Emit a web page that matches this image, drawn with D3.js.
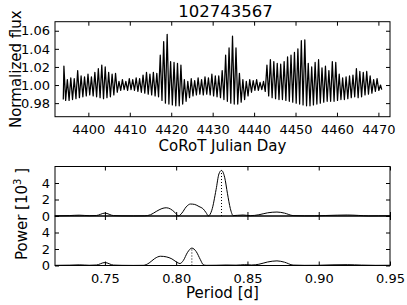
<!DOCTYPE html>
<html>
<head>
<meta charset="utf-8">
<script src="https://cdn.jsdelivr.net/npm/d3@7"></script>
<style>
html,body{margin:0;padding:0;background:#fff;}
svg{display:block;font-family:"DejaVu Sans",sans-serif;}
</style>
</head>
<body>
<svg id="chart" width="407" height="305"></svg>
<script>
// ---------------- DATA ----------------
const title = "102743567";
// light curve: maxima and minima of each pulsation cycle (CoRoT Julian Day, normalized flux)
const peakDays = [4394.10,4394.93,4395.76,4396.59,4397.42,4398.25,4399.08,4399.91,4400.74,4401.57,
4402.41,4403.24,4404.07,4404.90,4405.73,4406.56,4407.39,4408.22,4409.05,4409.88,
4410.71,4411.54,4412.37,4413.20,4414.03,4414.86,4415.69,4416.52,4417.35,4418.18,
4419.02,4419.85,4420.68,4421.51,4422.34,4423.17,4424.00,4424.83,4425.66,4426.49,
4427.32,4428.15,4428.98,4429.81,4430.64,4431.47,4432.30,4433.13,4433.96,4434.79,
4435.63,4436.46,4437.29,4438.12,4438.95,4439.78,4440.61,4441.44,4442.27,4443.10,
4443.93,4444.76,4445.59,4446.42,4447.25,4448.08,4448.91,4449.74,4450.57,4451.40,
4452.24,4453.07,4453.90,4454.73,4455.56,4456.39,4457.22,4458.05,4458.88,4459.71,
4460.54,4461.37,4462.20,4463.03,4463.86,4464.69,4465.52,4466.35,4467.18,4468.01,
4468.85,4469.68,4470.51];
const peakFlux = [1.021,1.006,1.008,1.007,1.016,1.010,1.009,1.012,1.009,1.014,
1.018,1.022,1.020,1.014,1.012,1.013,1.004,1.006,1.004,1.007,
1.006,1.008,1.007,1.011,1.014,1.012,1.014,1.013,1.033,1.048,
1.056,1.026,1.025,1.024,1.022,1.006,1.004,1.007,1.005,1.008,
1.006,1.009,1.008,1.012,1.010,1.010,1.016,1.033,1.041,1.054,
1.041,1.013,1.006,1.004,1.006,1.005,1.006,1.003,1.004,1.022,
1.028,1.026,1.024,1.023,1.026,1.031,1.033,1.036,1.040,1.049,
1.050,1.024,1.020,1.025,1.028,1.019,1.021,1.016,1.026,1.025,
1.012,1.008,1.009,1.010,1.011,1.018,1.015,1.014,1.015,1.010,
1.006,1.007,1.000];
const troughDays = [4393.95,4394.52,4395.35,4396.18,4397.01,4397.84,4398.67,4399.50,4400.33,4401.16,4401.99,
4402.83,4403.66,4404.49,4405.32,4406.15,4406.98,4407.81,4408.64,4409.47,4410.30,
4411.13,4411.96,4412.79,4413.62,4414.45,4415.28,4416.11,4416.94,4417.77,4418.60,
4419.44,4420.27,4421.10,4421.93,4422.76,4423.59,4424.42,4425.25,4426.08,4426.91,
4427.74,4428.57,4429.40,4430.23,4431.06,4431.89,4432.72,4433.55,4434.38,4435.21,
4436.05,4436.88,4437.71,4438.54,4439.37,4440.20,4441.03,4441.86,4442.69,4443.52,
4444.35,4445.18,4446.01,4446.84,4447.67,4448.50,4449.33,4450.16,4450.99,4451.82,
4452.66,4453.49,4454.32,4455.15,4455.98,4456.81,4457.64,4458.47,4459.30,4460.13,
4460.96,4461.79,4462.62,4463.45,4464.28,4465.11,4465.94,4466.77,4467.60,4468.43,
4469.27,4470.10,4470.80];
const troughFlux = [0.984,0.983,0.983,0.984,0.985,0.986,0.987,0.988,0.989,0.988,0.987,
0.986,0.985,0.986,0.987,0.989,0.992,0.994,0.995,0.994,0.995,
0.994,0.993,0.992,0.991,0.990,0.989,0.988,0.987,0.983,0.980,
0.979,0.978,0.977,0.977,0.979,0.982,0.986,0.988,0.989,0.990,
0.989,0.990,0.989,0.988,0.987,0.986,0.984,0.982,0.980,0.979,
0.979,0.981,0.984,0.988,0.992,0.994,0.994,0.995,0.993,0.988,
0.986,0.985,0.984,0.984,0.983,0.982,0.981,0.980,0.979,0.978,
0.977,0.977,0.978,0.979,0.980,0.981,0.982,0.982,0.982,0.983,
0.984,0.984,0.985,0.986,0.987,0.986,0.987,0.989,0.990,0.991,
0.993,0.994,0.995];
const lcXTicks = [4400,4410,4420,4430,4440,4450,4460,4470];
const lcYTicks = [0.98,1.00,1.02,1.04,1.06];

// periodograms (period in d, power in 10^3)
const period1 = [0.715,0.725,0.732,0.739,0.744,0.750,0.756,0.762,0.770,0.778,0.782,0.786,0.790,0.793,0.796,0.799,0.8016,
0.804,0.807,0.810,0.813,0.816,0.819,0.821,0.8226,0.825,0.828,0.830,0.8318,0.834,0.836,0.838,0.840,0.843,0.847,0.852,
0.858,0.864,0.8707,0.876,0.882,0.890,0.897,0.905,0.913,0.920,0.928,0.935,0.942,0.950];
const power1 = [0.02,0.05,0.10,0.04,0.06,0.35,0.05,0.02,0.01,0.02,0.15,0.55,0.90,1.00,0.85,0.45,0.02,
0.35,1.10,1.45,1.40,1.15,0.85,0.40,0.02,0.70,3.20,5.10,5.52,4.70,2.70,0.90,0.05,0.08,0.12,0.04,
0.15,0.38,0.48,0.35,0.05,0.02,0.02,0.06,0.10,0.12,0.07,0.01,0.02,0.03];
const period2 = [0.715,0.725,0.732,0.739,0.744,0.750,0.756,0.762,0.770,0.777,0.781,0.785,0.789,0.793,0.797,0.800,0.8027,
0.805,0.808,0.811,0.814,0.817,0.819,0.821,0.828,0.835,0.842,0.848,0.853,0.858,0.864,0.8707,0.876,0.882,0.890,
0.900,0.910,0.920,0.930,0.940,0.950];
const power2 = [0.02,0.04,0.08,0.03,0.06,0.36,0.05,0.02,0.01,0.02,0.30,0.85,1.12,1.05,0.80,0.45,0.24,
0.60,1.60,2.11,1.70,0.70,0.10,0.02,0.03,0.06,0.04,0.10,0.06,0.15,0.42,0.56,0.40,0.05,0.02,
0.03,0.08,0.10,0.05,0.02,0.03];
const peakPeriods = [0.8318, 0.811];
const peakPowers = [5.52, 2.11];
const pXTicks = [0.75,0.80,0.85,0.90,0.95];
const pYTicks = [0,2,4];

// ---------------- LAYOUT ----------------
const svg = d3.select("#chart");
const L = 55, R = 390;
const top1 = 21.7, bot1 = 116.7;
const pTop = 166.5, pMid = 216, pBot = 265.5;
const tickFont = 13, labelFont = 15, titleFont = 16.5;

function styleAxis(g) {
  g.attr("font-family", "DejaVu Sans, sans-serif").attr("font-size", tickFont);
  g.select(".domain").remove();
  g.selectAll(".tick line").attr("stroke", "#000").attr("stroke-width", 1);
  g.selectAll(".tick text").attr("fill", "#000");
}

function frame(x0, y0, x1, y1) {
  svg.append("rect").attr("x", x0).attr("y", y0).attr("width", x1 - x0).attr("height", y1 - y0)
    .attr("fill", "none").attr("stroke", "#000").attr("stroke-width", 1);
}

function allTicks(x, y, yT, xT, yTop, yBottom, xLabels, yFmt, xFmt) {
  const gb = svg.append("g").attr("transform", `translate(0,${yBottom})`)
    .call(d3.axisBottom(x).tickValues(xT).tickSize(-4).tickPadding(8).tickFormat(xLabels ? xFmt : ""));
  styleAxis(gb);
  const gt = svg.append("g").attr("transform", `translate(0,${yTop})`)
    .call(d3.axisTop(x).tickValues(xT).tickSize(-4).tickFormat(""));
  styleAxis(gt);
  const gl = svg.append("g").attr("transform", `translate(${L},0)`)
    .call(d3.axisLeft(y).tickValues(yT).tickSize(-4).tickPadding(5).tickFormat(yFmt));
  styleAxis(gl);
  const gr = svg.append("g").attr("transform", `translate(${R},0)`)
    .call(d3.axisRight(y).tickValues(yT).tickSize(-4).tickFormat(""));
  styleAxis(gr);
}

// ---------------- LIGHT CURVE ----------------
const xLC = d3.scaleLinear().domain([4391.95, 4472.8]).range([L, R]);
const yLC = d3.scaleLinear().domain([0.965, 1.07]).range([bot1, top1]);

const lcPoints = peakDays.map((d, i) => [d, peakFlux[i]])
  .concat(troughDays.map((d, i) => [d, troughFlux[i]]))
  .sort((a, b) => a[0] - b[0]);

svg.append("path").datum(lcPoints)
  .attr("d", d3.line().x(d => xLC(d[0])).y(d => yLC(d[1])))
  .attr("fill", "none").attr("stroke", "#000").attr("stroke-width", 1.25).attr("stroke-linejoin", "round");

allTicks(xLC, yLC, lcYTicks, lcXTicks, top1, bot1, true, d3.format(".2f"), d3.format("d"));
frame(L, top1, R, bot1);

svg.append("text").attr("x", (L + R) / 2 + 3).attr("y", 17).attr("text-anchor", "middle")
  .attr("font-size", titleFont).text(title);
svg.append("text").attr("x", (L + R) / 2).attr("y", 151).attr("text-anchor", "middle")
  .attr("font-size", labelFont).text("CoRoT Julian Day");
svg.append("text").attr("transform", `translate(21,${(top1 + bot1) / 2}) rotate(-90)`)
  .attr("text-anchor", "middle").attr("font-size", labelFont).text("Normalized flux");

// ---------------- PERIODOGRAMS ----------------
const xP = d3.scaleLinear().domain([0.715, 0.95]).range([L, R]);
const yP1 = d3.scaleLinear().domain([0, 6]).range([pMid, pTop]);
const yP2 = d3.scaleLinear().domain([0, 6]).range([pBot, pMid]);

const panels = [
  {per: period1, pow: power1, y: yP1, t: pTop, b: pMid, labels: false},
  {per: period2, pow: power2, y: yP2, t: pMid, b: pBot, labels: true}
];
panels.forEach((p, k) => {
  const pts = p.per.map((d, i) => [d, p.pow[i]]);
  svg.append("path").datum(pts)
    .attr("d", d3.line().curve(d3.curveMonotoneX).x(d => xP(d[0])).y(d => p.y(d[1])))
    .attr("fill", "none").attr("stroke", "#000").attr("stroke-width", 1);
  svg.append("line")
    .attr("x1", xP(peakPeriods[k])).attr("x2", xP(peakPeriods[k]))
    .attr("y1", p.y(0)).attr("y2", p.y(peakPowers[k]))
    .attr("stroke", "#000").attr("stroke-width", 1).attr("stroke-dasharray", "1,2");
  allTicks(xP, p.y, pYTicks, pXTicks, p.t, p.b, p.labels, d3.format("d"), d3.format(".2f"));
  frame(L, p.t, R, p.b);
});

svg.append("text").attr("x", (L + R) / 2).attr("y", 298).attr("text-anchor", "middle")
  .attr("font-size", labelFont).text("Period [d]");
const yl = svg.append("text").attr("transform", `translate(27,214) rotate(-90)`)
  .attr("text-anchor", "middle").attr("font-size", labelFont);
yl.append("tspan").text("Power [10");
yl.append("tspan").attr("font-size", 10).attr("dy", -6).text("3");
yl.append("tspan").attr("dy", 6).text(" ]");
</script>
</body>
</html>
